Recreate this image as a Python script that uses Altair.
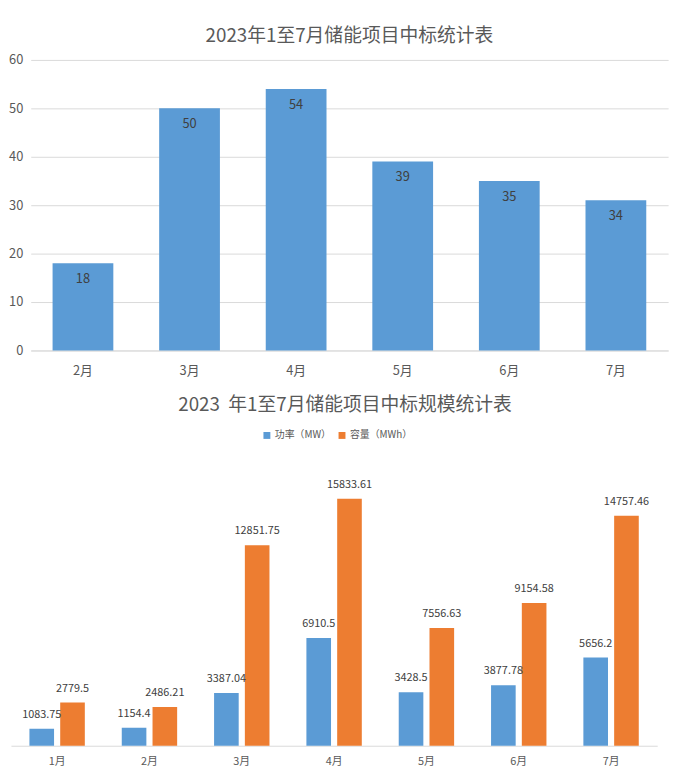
import altair as alt
import pandas as pd

FONT = "Noto Sans CJK SC"
BLUE = "#5B9BD5"
ORANGE = "#ED7D31"
GRID = "#D9D9D9"
TXT = "#595959"

# ---- data: top chart (number of winning bids) ----
top_months = ["2月", "3月", "4月", "5月", "6月", "7月"]
# bar heights as drawn in the picture (the 7月 bar is drawn at ~31)
top_counts = [18, 50, 54, 39, 35, 31]
# value labels as printed on the bars
top_labels = ["18", "50", "54", "39", "35", "34"]

# ---- data: bottom chart (scale) ----
months = ["1月", "2月", "3月", "4月", "5月", "6月", "7月"]
power_mw = [1083.75, 1154.4, 3387.04, 6910.5, 3428.5, 3877.78, 5656.2]
capacity_mwh = [2779.5, 2486.21, 12851.75, 15833.61, 7556.63, 9154.58, 14757.46]
series_names = ["功率（MW）", "容量（MWh）"]

title_top = "2023年1至7月储能项目中标统计表"
title_bottom = "2023\u00a0\u00a0年1至7月储能项目中标规模统计表"

# ---------------- top chart ----------------
df1 = pd.DataFrame({"month": top_months, "count": top_counts, "label": top_labels})
x1 = alt.X(
    "month:N", sort=top_months, title=None,
    scale=alt.Scale(paddingInner=0.43, paddingOuter=0.205),
    axis=alt.Axis(labelAngle=0, labelFontSize=13, labelColor=TXT, labelFont=FONT,
                  labelPadding=14, ticks=False, domainColor=GRID, grid=False),
)
y1 = alt.Y(
    "count:Q", title=None, scale=alt.Scale(domain=[0, 60]),
    axis=alt.Axis(values=[0, 10, 20, 30, 40, 50, 60], domain=False, ticks=False,
                  gridColor=GRID, labelFontSize=13, labelColor=TXT, labelFont=FONT,
                  labelPadding=8),
)
base1 = alt.Chart(df1)
bars1 = base1.mark_bar(color=BLUE).encode(x=x1, y=y1)
text1 = base1.mark_text(baseline="middle", dy=16, fontSize=13, color="#404040",
                        font=FONT).encode(x=x1, y=y1, text="label:N")
top = (bars1 + text1).properties(
    width=645, height=294,
    title=alt.TitleParams(title_top, fontSize=19, font=FONT, color=TXT,
                          fontWeight="normal", offset=8),
)

# ---------------- bottom chart ----------------
rows = []
for m, p, c in zip(months, power_mw, capacity_mwh):
    rows.append({"month": m, "series": series_names[0], "value": p})
    rows.append({"month": m, "series": series_names[1], "value": c})
df2 = pd.DataFrame(rows)

x2 = alt.X(
    "month:N", sort=months, title=None,
    scale=alt.Scale(paddingInner=0.4, paddingOuter=0.2, range=[-20, 634]),
    axis=alt.Axis(labelAngle=0, labelFontSize=11, labelColor=TXT, labelFont=FONT,
                  labelPadding=10, ticks=False, domainColor=GRID, grid=False),
)
xo = alt.XOffset("series:N", sort=series_names,
                 scale=alt.Scale(paddingInner=0.2, paddingOuter=0))
y2 = alt.Y("value:Q", title=None, scale=alt.Scale(domain=[0, 18000]), axis=None)
color2 = alt.Color(
    "series:N", sort=series_names,
    scale=alt.Scale(domain=series_names, range=[BLUE, ORANGE]),
    legend=alt.Legend(title=None, orient="none", direction="horizontal",
                      legendX=234, legendY=375, symbolType="square", symbolSize=49,
                      symbolStrokeWidth=0, labelFontSize=10, labelColor=TXT,
                      labelFont=FONT, labelOffset=3, columnPadding=6),
)
base2 = alt.Chart(df2).transform_calculate(label="'' + datum.value")
bars2 = base2.mark_bar().encode(x=x2, xOffset=xo, y=y2, color=color2)
text2 = base2.mark_text(baseline="middle", dy=-14, fontSize=11, color="#404040",
                        font=FONT).encode(x=x2, xOffset=xo, y=y2, text="label:N")
bottom = (bars2 + text2).properties(
    width=615, height=284,
    title=alt.TitleParams(title_bottom, fontSize=19, font=FONT, color=TXT,
                          fontWeight="normal", offset=51, anchor="start", dx=158),
)

chart = alt.vconcat(top, bottom, spacing=19).properties(
    padding={"left": 0, "top": 15, "right": 0, "bottom": 0}
).configure(background="white").configure_view(strokeWidth=0, stroke="transparent")

chart.save("out.html", embed_options={"renderer": "svg", "actions": False})
